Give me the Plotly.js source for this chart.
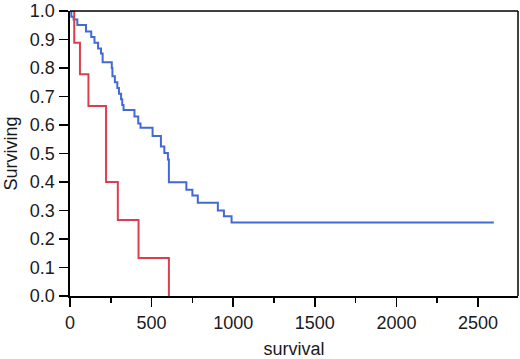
<!DOCTYPE html>
<html>
<head>
<meta charset="utf-8">
<script src="https://cdn.plot.ly/plotly-3.0.1.min.js"></script>
<style>html,body{margin:0;padding:0;background:#fff;}#chart{width:520px;height:359px;}</style>
</head>
<body>
<div id="chart"></div>
<script>
// Kaplan-Meier estimates
const blueTime = [0, 8, 22, 45, 98, 130, 150, 172, 190, 200, 256, 260, 275, 290, 300, 313, 320, 328, 395, 418, 432, 506, 557, 578, 600, 606, 713, 750, 783, 906, 943, 990, 2597];
const blueSurv = [1.0, 0.98, 0.97, 0.951, 0.928, 0.909, 0.889, 0.868, 0.851, 0.82, 0.80, 0.771, 0.75, 0.73, 0.71, 0.69, 0.67, 0.653, 0.63, 0.605, 0.59, 0.561, 0.525, 0.502, 0.479, 0.399, 0.373, 0.353, 0.327, 0.30, 0.28, 0.258, 0.258];
const redTime = [0, 26, 61, 113, 221, 293, 420, 606];
const redSurv = [1.0, 0.889, 0.778, 0.667, 0.4, 0.267, 0.133, 0.0];
const xTicks = [0, 500, 1000, 1500, 2000, 2500];
const yTicks = [0.0, 0.1, 0.2, 0.3, 0.4, 0.5, 0.6, 0.7, 0.8, 0.9, 1.0];

const traces = [
  {x: blueTime, y: blueSurv, type: 'scatter', mode: 'lines', line: {shape: 'hv', color: '#426ad4', width: 2}, hoverinfo: 'skip', cliponaxis: false},
  {x: redTime, y: redSurv, type: 'scatter', mode: 'lines', line: {shape: 'hv', color: '#d8404f', width: 2}, hoverinfo: 'skip', cliponaxis: false}
];

const font = {family: 'Liberation Sans, Arial, sans-serif', size: 18, color: '#1a1a1a'};
const layout = {
  width: 520, height: 359,
  margin: {l: 70, r: 2, t: 11, b: 63},
  paper_bgcolor: '#fff', plot_bgcolor: '#fff',
  showlegend: false,
  font: font,
  xaxis: {
    range: [0, 2745], tickvals: xTicks, ticktext: xTicks.map(String),
    ticks: 'outside', ticklen: 9, tickwidth: 1.5, tickcolor: '#000',
    minor: {dtick: 250, tick0: 0, ticks: 'outside', ticklen: 5, tickwidth: 1.5, tickcolor: '#000'},
    showgrid: false, zeroline: false, showline: true, linecolor: '#000', linewidth: 2,
    tickfont: font, ticklabeloverflow: 'allow',
    title: {text: 'survival', font: font, standoff: 12}
  },
  yaxis: {
    range: [0, 1], tickvals: yTicks, ticktext: yTicks.map(v => v.toFixed(1)),
    ticks: 'outside', ticklen: 9, tickwidth: 1.5, tickcolor: '#000',
    showgrid: false, zeroline: false, showline: true, linecolor: '#000', linewidth: 2.5,
    tickfont: font, ticklabeloverflow: 'allow',
    title: {text: 'Surviving', font: font, standoff: 8}
  },
  shapes: [
    {type: 'line', xref: 'paper', yref: 'paper', x0: 0, x1: 1, y0: 1, y1: 1, line: {color: '#000', width: 1.5}},
    {type: 'line', xref: 'paper', yref: 'paper', x0: 1, x1: 1, y0: 0, y1: 1, line: {color: '#000', width: 1.5}}
  ]
};
Plotly.newPlot('chart', traces, layout, {staticPlot: true, displayModeBar: false});
</script>
</body>
</html>
